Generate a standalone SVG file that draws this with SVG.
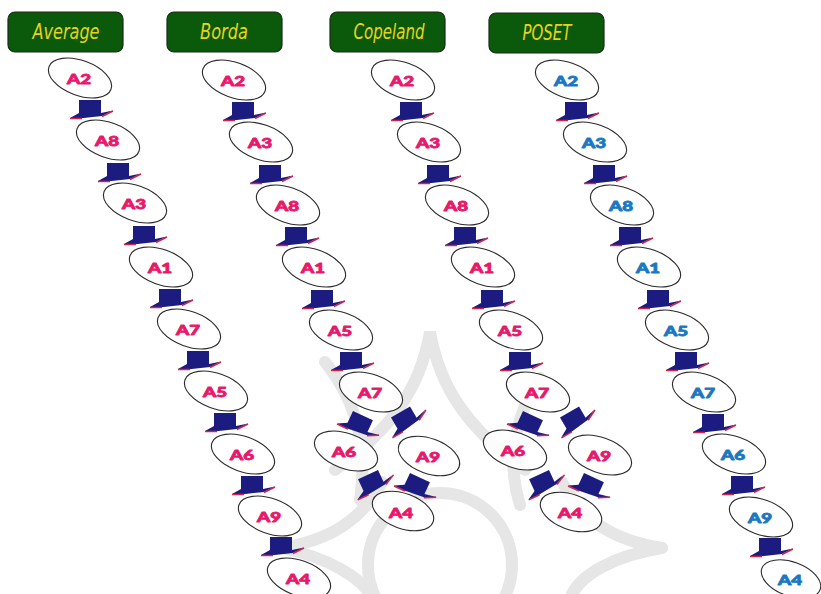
<svg xmlns="http://www.w3.org/2000/svg" xmlns:xlink="http://www.w3.org/1999/xlink" width="821" height="594" viewBox="0 0 821 594">
<style>
.hdr rect{fill:#0b5a0b;stroke:#1a2a1a;stroke-width:1.2}
.hdr text{font-family:"DejaVu Sans",sans-serif;font-style:italic;font-size:21px;fill:#e8d41c;text-anchor:middle}
.node ellipse{fill:#ffffff;fill-opacity:0.85;stroke:#2a2a2a;stroke-width:1.1}
.node text{font-family:Lato,"DejaVu Sans",sans-serif;font-weight:900;font-size:13px;text-anchor:middle;dominant-baseline:central;stroke-width:0.8;stroke-linejoin:round}
.pk text{fill:#e8186a;stroke:#e8186a}
.bl text{fill:#1a78c2;stroke:#1a78c2}
.wm{fill:none;stroke:#e6e6e6;stroke-width:12;stroke-linecap:round}
</style>
<defs>
<g id="hat">
<polygon points="-20,11 -11,6 11,6 23,3.5 12,9 -11,11.5" fill="#1c1c80"/>
<line x1="-20" y1="11.5" x2="-8" y2="11.5" stroke="#d0244a" stroke-width="1.5"/>
<line x1="12" y1="9.5" x2="23" y2="4" stroke="#d0244a" stroke-width="1.5"/>
<rect x="-11" y="-7" width="22" height="14" fill="#1c1c80"/>
</g>
</defs>
<rect width="821" height="594" fill="#ffffff"/>
<g id="watermark">
<path class="wm" d="M335,470 C390,430 420,390 430,332 C440,390 470,430 525,470"/>
<path class="wm" d="M282,548 C330,540 362,520 382,482"/>
<path class="wm" d="M282,548 C330,558 360,578 370,594"/>
<path class="wm" d="M662,548 C612,540 582,520 562,482"/>
<path class="wm" d="M662,548 C612,556 582,575 572,594"/>
<circle class="wm" cx="440" cy="565" r="72"/>
<path class="wm" d="M325,362 Q372,420 360,500"/>
<path class="wm" d="M540,378 Q500,440 520,505"/>
</g>
<g id="headers">
<g id="h-average" class="hdr"><rect x="8" y="12" width="115" height="40" rx="7"/><text x="66" y="39" textLength="67" lengthAdjust="spacingAndGlyphs">Average</text></g>
<g id="h-borda" class="hdr"><rect x="167" y="12" width="115" height="40" rx="7"/><text x="224" y="39" textLength="48" lengthAdjust="spacingAndGlyphs">Borda</text></g>
<g id="h-copeland" class="hdr"><rect x="330" y="12" width="115" height="40" rx="7"/><text x="389" y="39" textLength="71" lengthAdjust="spacingAndGlyphs">Copeland</text></g>
<g id="h-poset" class="hdr"><rect x="489" y="13" width="115" height="40" rx="7"/><text x="547" y="40" textLength="49" lengthAdjust="spacingAndGlyphs">POSET</text></g>
</g>
<g id="connectors">
<use href="#hat" x="90" y="107"/>
<use href="#hat" x="118" y="170"/>
<use href="#hat" x="144" y="233"/>
<use href="#hat" x="170" y="296"/>
<use href="#hat" x="198" y="358"/>
<use href="#hat" x="225" y="420"/>
<use href="#hat" x="252" y="483"/>
<use href="#hat" x="281" y="544"/>

<use href="#hat" x="243" y="109"/>
<use href="#hat" x="270" y="172"/>
<use href="#hat" x="296" y="234"/>
<use href="#hat" x="322" y="297"/>
<use href="#hat" x="351" y="359"/>
<use href="#hat" transform="translate(360,422) rotate(25)"/>
<use href="#hat" transform="translate(404,418) rotate(-30)"/>
<use href="#hat" transform="translate(371,481) rotate(-25)"/>
<use href="#hat" transform="translate(417,484) rotate(25)"/>

<use href="#hat" x="411" y="109"/>
<use href="#hat" x="438" y="172"/>
<use href="#hat" x="465" y="234"/>
<use href="#hat" x="492" y="297"/>
<use href="#hat" x="520" y="359"/>
<use href="#hat" transform="translate(530,422) rotate(25)"/>
<use href="#hat" transform="translate(573,418) rotate(-30)"/>
<use href="#hat" transform="translate(542,481) rotate(-25)"/>
<use href="#hat" transform="translate(591,484) rotate(25)"/>

<use href="#hat" x="576" y="109"/>
<use href="#hat" x="604" y="172"/>
<use href="#hat" x="630" y="234"/>
<use href="#hat" x="658" y="297"/>
<use href="#hat" x="686" y="359"/>
<use href="#hat" x="713" y="421"/>
<use href="#hat" x="742" y="483"/>
<use href="#hat" x="770" y="545"/>
</g>
<g id="col-average">
<g id="avg-a2" class="node pk"><ellipse cx="80" cy="78" rx="33" ry="17.5" transform="rotate(20 80 78)"/><text x="79" y="79" textLength="24" lengthAdjust="spacingAndGlyphs">A2</text></g>
<g id="avg-a8" class="node pk"><ellipse cx="108" cy="140" rx="33" ry="17.5" transform="rotate(20 108 140)"/><text x="107" y="141" textLength="24" lengthAdjust="spacingAndGlyphs">A8</text></g>
<g id="avg-a3" class="node pk"><ellipse cx="135" cy="203" rx="33" ry="17.5" transform="rotate(20 135 203)"/><text x="134" y="204" textLength="24" lengthAdjust="spacingAndGlyphs">A3</text></g>
<g id="avg-a1" class="node pk"><ellipse cx="161" cy="267" rx="33" ry="17.5" transform="rotate(20 161 267)"/><text x="160" y="268" textLength="24" lengthAdjust="spacingAndGlyphs">A1</text></g>
<g id="avg-a7" class="node pk"><ellipse cx="189" cy="329" rx="33" ry="17.5" transform="rotate(20 189 329)"/><text x="188" y="330" textLength="24" lengthAdjust="spacingAndGlyphs">A7</text></g>
<g id="avg-a5" class="node pk"><ellipse cx="216" cy="391" rx="33" ry="17.5" transform="rotate(20 216 391)"/><text x="215" y="392" textLength="24" lengthAdjust="spacingAndGlyphs">A5</text></g>
<g id="avg-a6" class="node pk"><ellipse cx="243" cy="454" rx="33" ry="17.5" transform="rotate(20 243 454)"/><text x="242" y="455" textLength="24" lengthAdjust="spacingAndGlyphs">A6</text></g>
<g id="avg-a9" class="node pk"><ellipse cx="270" cy="516" rx="33" ry="17.5" transform="rotate(20 270 516)"/><text x="269" y="517" textLength="24" lengthAdjust="spacingAndGlyphs">A9</text></g>
<g id="avg-a4" class="node pk"><ellipse cx="299" cy="578" rx="33" ry="17.5" transform="rotate(20 299 578)"/><text x="298" y="579" textLength="24" lengthAdjust="spacingAndGlyphs">A4</text></g>
</g>
<g id="col-borda">
<g id="bor-a2" class="node pk"><ellipse cx="234" cy="80" rx="33" ry="17.5" transform="rotate(20 234 80)"/><text x="233" y="81" textLength="24" lengthAdjust="spacingAndGlyphs">A2</text></g>
<g id="bor-a3" class="node pk"><ellipse cx="261" cy="142" rx="33" ry="17.5" transform="rotate(20 261 142)"/><text x="260" y="143" textLength="24" lengthAdjust="spacingAndGlyphs">A3</text></g>
<g id="bor-a8" class="node pk"><ellipse cx="288" cy="205" rx="33" ry="17.5" transform="rotate(20 288 205)"/><text x="287" y="206" textLength="24" lengthAdjust="spacingAndGlyphs">A8</text></g>
<g id="bor-a1" class="node pk"><ellipse cx="314" cy="267" rx="33" ry="17.5" transform="rotate(20 314 267)"/><text x="313" y="268" textLength="24" lengthAdjust="spacingAndGlyphs">A1</text></g>
<g id="bor-a5" class="node pk"><ellipse cx="341" cy="330" rx="33" ry="17.5" transform="rotate(20 341 330)"/><text x="340" y="331" textLength="24" lengthAdjust="spacingAndGlyphs">A5</text></g>
<g id="bor-a7" class="node pk"><ellipse cx="371" cy="392" rx="33" ry="17.5" transform="rotate(20 371 392)"/><text x="370" y="393" textLength="24" lengthAdjust="spacingAndGlyphs">A7</text></g>
<g id="bor-a6" class="node pk"><ellipse cx="346" cy="451" rx="33" ry="17.5" transform="rotate(20 346 451)"/><text x="344" y="452" textLength="24" lengthAdjust="spacingAndGlyphs">A6</text></g>
<g id="bor-a9" class="node pk"><ellipse cx="429" cy="456" rx="32" ry="17.5" transform="rotate(20 429 456)"/><text x="428" y="457" textLength="24" lengthAdjust="spacingAndGlyphs">A9</text></g>
<g id="bor-a4" class="node pk"><ellipse cx="403" cy="511" rx="32" ry="17.5" transform="rotate(20 403 511)"/><text x="401" y="513" textLength="24" lengthAdjust="spacingAndGlyphs">A4</text></g>
</g>
<g id="col-copeland">
<g id="cop-a2" class="node pk"><ellipse cx="403" cy="80" rx="33" ry="17.5" transform="rotate(20 403 80)"/><text x="402" y="81" textLength="24" lengthAdjust="spacingAndGlyphs">A2</text></g>
<g id="cop-a3" class="node pk"><ellipse cx="429" cy="142" rx="33" ry="17.5" transform="rotate(20 429 142)"/><text x="428" y="143" textLength="24" lengthAdjust="spacingAndGlyphs">A3</text></g>
<g id="cop-a8" class="node pk"><ellipse cx="457" cy="205" rx="33" ry="17.5" transform="rotate(20 457 205)"/><text x="456" y="206" textLength="24" lengthAdjust="spacingAndGlyphs">A8</text></g>
<g id="cop-a1" class="node pk"><ellipse cx="483" cy="267" rx="33" ry="17.5" transform="rotate(20 483 267)"/><text x="482" y="268" textLength="24" lengthAdjust="spacingAndGlyphs">A1</text></g>
<g id="cop-a5" class="node pk"><ellipse cx="511" cy="330" rx="33" ry="17.5" transform="rotate(20 511 330)"/><text x="510" y="331" textLength="24" lengthAdjust="spacingAndGlyphs">A5</text></g>
<g id="cop-a7" class="node pk"><ellipse cx="538" cy="392" rx="33" ry="17.5" transform="rotate(20 538 392)"/><text x="537" y="393" textLength="24" lengthAdjust="spacingAndGlyphs">A7</text></g>
<g id="cop-a6" class="node pk"><ellipse cx="515" cy="450" rx="33" ry="17.5" transform="rotate(20 515 450)"/><text x="513" y="451" textLength="24" lengthAdjust="spacingAndGlyphs">A6</text></g>
<g id="cop-a9" class="node pk"><ellipse cx="600" cy="455" rx="33" ry="17.5" transform="rotate(20 600 455)"/><text x="599" y="456" textLength="24" lengthAdjust="spacingAndGlyphs">A9</text></g>
<g id="cop-a4" class="node pk"><ellipse cx="571" cy="512" rx="32" ry="17.5" transform="rotate(20 571 512)"/><text x="570" y="513" textLength="24" lengthAdjust="spacingAndGlyphs">A4</text></g>
</g>
<g id="col-poset">
<g id="pos-a2" class="node bl"><ellipse cx="567" cy="80" rx="33" ry="17.5" transform="rotate(20 567 80)"/><text x="566" y="81" textLength="24" lengthAdjust="spacingAndGlyphs">A2</text></g>
<g id="pos-a3" class="node bl"><ellipse cx="595" cy="142" rx="33" ry="17.5" transform="rotate(20 595 142)"/><text x="594" y="143" textLength="24" lengthAdjust="spacingAndGlyphs">A3</text></g>
<g id="pos-a8" class="node bl"><ellipse cx="622" cy="205" rx="33" ry="17.5" transform="rotate(20 622 205)"/><text x="621" y="206" textLength="24" lengthAdjust="spacingAndGlyphs">A8</text></g>
<g id="pos-a1" class="node bl"><ellipse cx="649" cy="267" rx="33" ry="17.5" transform="rotate(20 649 267)"/><text x="648" y="268" textLength="24" lengthAdjust="spacingAndGlyphs">A1</text></g>
<g id="pos-a5" class="node bl"><ellipse cx="677" cy="330" rx="33" ry="17.5" transform="rotate(20 677 330)"/><text x="676" y="331" textLength="24" lengthAdjust="spacingAndGlyphs">A5</text></g>
<g id="pos-a7" class="node bl"><ellipse cx="704" cy="392" rx="33" ry="17.5" transform="rotate(20 704 392)"/><text x="703" y="393" textLength="24" lengthAdjust="spacingAndGlyphs">A7</text></g>
<g id="pos-a6" class="node bl"><ellipse cx="734" cy="454" rx="33" ry="17.5" transform="rotate(20 734 454)"/><text x="733" y="455" textLength="24" lengthAdjust="spacingAndGlyphs">A6</text></g>
<g id="pos-a9" class="node bl"><ellipse cx="761" cy="517" rx="33" ry="17.5" transform="rotate(20 761 517)"/><text x="760" y="518" textLength="24" lengthAdjust="spacingAndGlyphs">A9</text></g>
<g id="pos-a4" class="node bl"><ellipse cx="791" cy="579" rx="31" ry="17" transform="rotate(20 791 579)"/><text x="790" y="580" textLength="24" lengthAdjust="spacingAndGlyphs">A4</text></g>
</g>
</svg>
